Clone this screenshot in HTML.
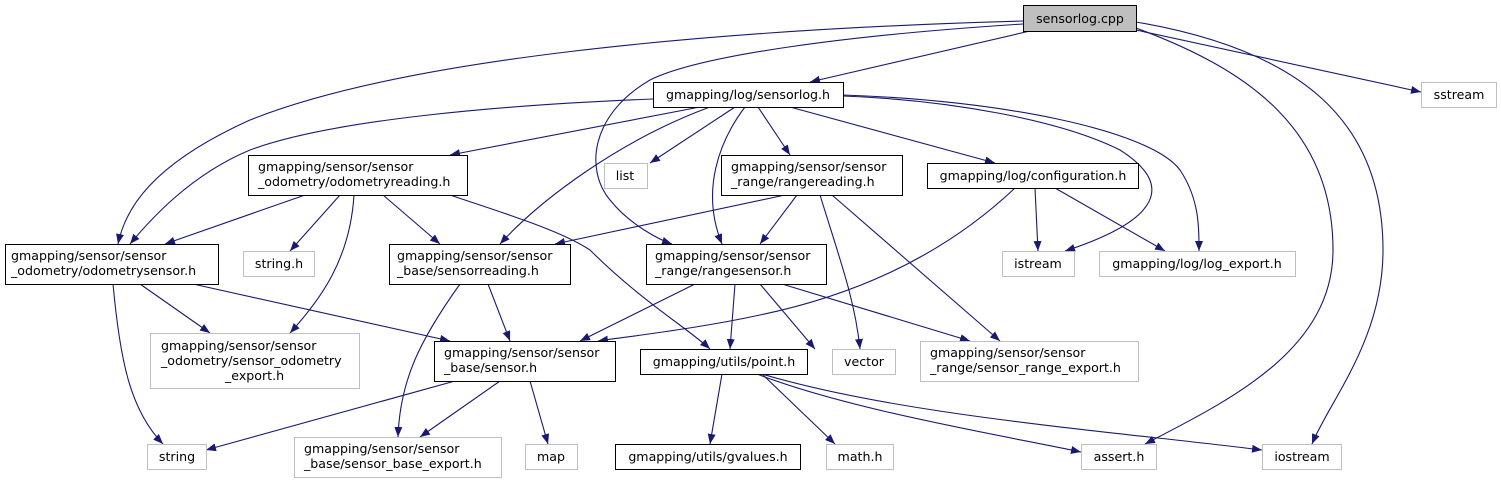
<!DOCTYPE html>
<html><head><meta charset="utf-8"><style>
html,body{margin:0;padding:0;background:#fff;}
svg{display:block;}
text{font-family:"DejaVu Sans","Liberation Sans",sans-serif;font-size:12.6px;fill:#000;}
</style></head><body>
<svg width="1501" height="484" viewBox="0 0 1501 484" xmlns="http://www.w3.org/2000/svg">
<defs>
<marker id="a" markerWidth="10" markerHeight="8" refX="10" refY="4" orient="auto" markerUnits="userSpaceOnUse">
<path d="M0,0 L10,4 L0,8 z" fill="#191970"/>
</marker>
</defs>
<g fill="none" stroke="#191970" stroke-width="1.1" marker-end="url(#a)">
<path d="M1030,31 L810,82"/>
<path d="M1136,30 L1421,92"/>
<path d="M1136,28 C1250,70 1333,130 1333,250 C1333,350 1230,400 1145,444"/>
<path d="M1136,22 C1300,50 1383,120 1383,250 C1383,340 1330,400 1312,444"/>
<path d="M1023,21 C700,30 400,60 250,120 C150,165 125,210 118,244"/>
<path d="M1023,24 C850,35 700,55 650,80 C590,115 585,170 610,200 C630,225 660,240 672,244"/>
<path d="M653,99 C500,105 330,120 250,150 C190,175 150,220 130,244"/>
<path d="M700,107 L450,155"/>
<path d="M710,107 C620,140 540,200 500,244"/>
<path d="M735,107 L650,163"/>
<path d="M745,107 C720,140 700,190 722,244"/>
<path d="M758,107 L790,155"/>
<path d="M790,107 L995,163"/>
<path d="M843,96 C950,100 1060,120 1120,150 C1175,185 1160,220 1065,251"/>
<path d="M843,95 C1000,100 1150,130 1180,170 C1200,200 1199,230 1199,251"/>
<path d="M305,195 L165,244"/>
<path d="M340,195 L290,251"/>
<path d="M354,195 C350,260 320,300 290,333"/>
<path d="M383,195 L440,244"/>
<path d="M450,195 C500,212 560,230 590,250 C640,300 690,330 710,349"/>
<path d="M785,195 L555,244"/>
<path d="M797,195 L760,244"/>
<path d="M820,195 C840,260 855,300 860,349"/>
<path d="M832,195 L1000,341"/>
<path d="M1015,188 C960,240 880,290 760,315 C700,328 640,335 598,341"/>
<path d="M1035,188 L1038,251"/>
<path d="M1055,188 L1165,251"/>
<path d="M113,284 C120,360 130,410 163,444"/>
<path d="M140,284 L210,333"/>
<path d="M193,284 L450,341"/>
<path d="M460,284 C420,340 400,380 398,437"/>
<path d="M488,284 L510,341"/>
<path d="M695,284 L580,341"/>
<path d="M735,284 L730,349"/>
<path d="M760,284 L815,349"/>
<path d="M782,284 L970,341"/>
<path d="M455,381 L206,450"/>
<path d="M500,381 L420,437"/>
<path d="M530,381 L548,444"/>
<path d="M722,374 L710,444"/>
<path d="M762,374 L835,444"/>
<path d="M757,374 C850,410 1000,435 1081,452"/>
<path d="M762,374 C900,415 1100,430 1262,450"/>
</g>
<g stroke-width="1">
<rect x="1023.5" y="5.5" width="113" height="26" fill="#bfbfbf" stroke="#000"/>
<rect x="653.5" y="82.5" width="190" height="25" fill="#fff" stroke="#000"/>
<rect x="1421.5" y="82.5" width="75" height="25" fill="#fff" stroke="#bfbfbf"/>
<rect x="248.5" y="155.5" width="219" height="40" fill="#fff" stroke="#000"/>
<rect x="604.5" y="163.5" width="43" height="25" fill="#fff" stroke="#bfbfbf"/>
<rect x="721.5" y="155.5" width="181" height="40" fill="#fff" stroke="#000"/>
<rect x="927.5" y="163.5" width="211" height="25" fill="#fff" stroke="#000"/>
<rect x="5.5" y="244.5" width="213" height="40" fill="#fff" stroke="#000"/>
<rect x="243.5" y="251.5" width="71" height="25" fill="#fff" stroke="#bfbfbf"/>
<rect x="389.5" y="244.5" width="181" height="40" fill="#fff" stroke="#000"/>
<rect x="646.5" y="244.5" width="180" height="40" fill="#fff" stroke="#000"/>
<rect x="1002.5" y="251.5" width="72" height="25" fill="#fff" stroke="#bfbfbf"/>
<rect x="1099.5" y="251.5" width="196" height="25" fill="#fff" stroke="#bfbfbf"/>
<rect x="150.5" y="333.5" width="209" height="55" fill="#fff" stroke="#bfbfbf"/>
<rect x="434.5" y="341.5" width="181" height="40" fill="#fff" stroke="#000"/>
<rect x="640.5" y="349.5" width="167" height="25" fill="#fff" stroke="#000"/>
<rect x="832.5" y="349.5" width="63" height="25" fill="#fff" stroke="#bfbfbf"/>
<rect x="920.5" y="341.5" width="218" height="40" fill="#fff" stroke="#bfbfbf"/>
<rect x="147.5" y="444.5" width="59" height="25" fill="#fff" stroke="#bfbfbf"/>
<rect x="294.5" y="437.5" width="207" height="40" fill="#fff" stroke="#bfbfbf"/>
<rect x="525.5" y="444.5" width="52" height="25" fill="#fff" stroke="#bfbfbf"/>
<rect x="615.5" y="444.5" width="185" height="25" fill="#fff" stroke="#000"/>
<rect x="826.5" y="444.5" width="67" height="25" fill="#fff" stroke="#bfbfbf"/>
<rect x="1081.5" y="444.5" width="75" height="25" fill="#fff" stroke="#bfbfbf"/>
<rect x="1262.5" y="444.5" width="79" height="25" fill="#fff" stroke="#bfbfbf"/>
</g>
<g text-anchor="middle">
<text x="1080" y="23">sensorlog.cpp</text>
<text x="748" y="99">gmapping/log/sensorlog.h</text>
<text x="1459" y="99">sstream</text>
<text x="625" y="180">list</text>
<text x="1033" y="180">gmapping/log/configuration.h</text>
<text x="279" y="268">string.h</text>
<text x="1038" y="268">istream</text>
<text x="1197" y="268">gmapping/log/log_export.h</text>
<text x="724" y="366">gmapping/utils/point.h</text>
<text x="864" y="366">vector</text>
<text x="177" y="461">string</text>
<text x="551" y="461">map</text>
<text x="708" y="461">gmapping/utils/gvalues.h</text>
<text x="860" y="461">math.h</text>
<text x="1119" y="461">assert.h</text>
<text x="1302" y="461">iostream</text>
</g>
<g>
<text x="258" y="171">gmapping/sensor/sensor</text>
<text x="258" y="186">_odometry/odometryreading.h</text>
<text x="731" y="171">gmapping/sensor/sensor</text>
<text x="731" y="186">_range/rangereading.h</text>
<text x="11" y="260">gmapping/sensor/sensor</text>
<text x="11" y="275">_odometry/odometrysensor.h</text>
<text x="397" y="260">gmapping/sensor/sensor</text>
<text x="397" y="275">_base/sensorreading.h</text>
<text x="655" y="260">gmapping/sensor/sensor</text>
<text x="655" y="275">_range/rangesensor.h</text>
<text x="161" y="350">gmapping/sensor/sensor</text>
<text x="161" y="365">_odometry/sensor_odometry</text>
<text x="225" y="380">_export.h</text>
<text x="444" y="357">gmapping/sensor/sensor</text>
<text x="444" y="372">_base/sensor.h</text>
<text x="930" y="357">gmapping/sensor/sensor</text>
<text x="930" y="372">_range/sensor_range_export.h</text>
<text x="304" y="453">gmapping/sensor/sensor</text>
<text x="304" y="468">_base/sensor_base_export.h</text>
</g>
</svg>
</body></html>
